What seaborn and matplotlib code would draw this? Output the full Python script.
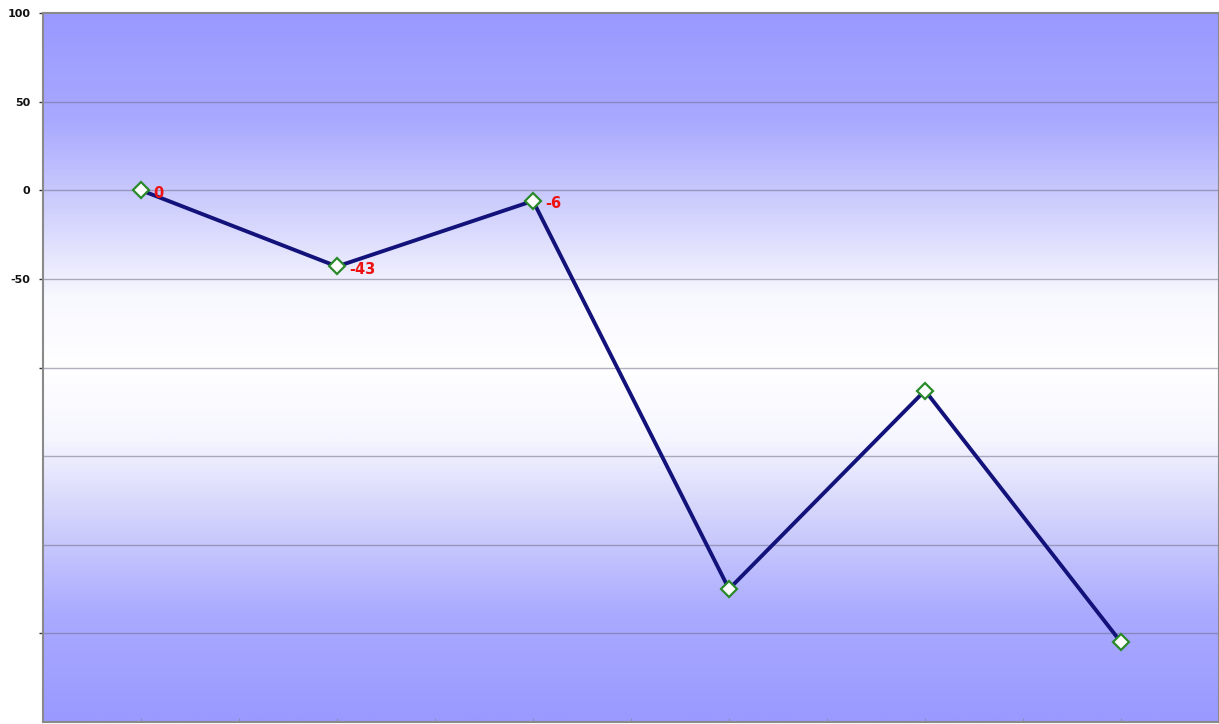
import numpy as np
import pandas as pd
import matplotlib
matplotlib.use("Agg")
import matplotlib.pyplot as plt
import seaborn as sns
from matplotlib.colors import LinearSegmentedColormap

# data
positions = [0, 1, 2, 3, 4, 5]
values = [0, -43, -6, -225, -113, -255]
point_labels = ["0", "-43", "-6", "", "", ""]
y_ticks = [100, 50, 0, -50, -100, -250]
y_ticklabels = ["100", "50", "0", "-50", "", ""]
grid_levels = [50, 0, -50, -100, -150, -200, -250]

df = pd.DataFrame({"pos": positions, "val": values})

sns.set_style("white")
fig = plt.figure(figsize=(12.19, 7.24), dpi=100)
ax = fig.add_axes([43 / 1219, 2 / 724, 1 - 43 / 1219, 709 / 724])

ax.set_xlim(-0.5, 5.5)
ax.set_ylim(-300, 100)

# vertical gradient background: blue top/bottom, white band around -100
grad_cmap = LinearSegmentedColormap.from_list(
    "bg", [(0.0, "#9999ff"), (0.15, "#a9a9ff"), (0.3, "#d8d8fd"),
           (0.4, "#f8f8ff"), (0.5, "#ffffff"), (0.6, "#f6f6ff"),
           (0.7, "#d6d6fc"), (0.85, "#aaaaff"), (1.0, "#9999ff")])
grad = np.linspace(0, 1, 400).reshape(-1, 1)
ax.imshow(grad, cmap=grad_cmap, aspect="auto", extent=[-0.5, 5.5, -300, 100],
          origin="upper", zorder=0)

for g in grid_levels:
    ax.axhline(g, color="#70708a", lw=1.0, alpha=0.55, zorder=1)

sns.lineplot(data=df, x="pos", y="val", ax=ax, color="#12127a", lw=2.8,
             marker="D", markersize=8, markerfacecolor="white",
             markeredgecolor="#2a8a2a", markeredgewidth=1.6, zorder=3)

for x, v, lab in zip(positions, values, point_labels):
    if lab:
        ax.annotate(lab, (x, v), xytext=(9, -2), textcoords="offset points",
                    color="#ee1111", fontsize=10.5, fontweight="bold",
                    ha="left", va="center", zorder=4)

ax.set_yticks(y_ticks)
ax.set_yticklabels(y_ticklabels, fontsize=8, fontweight="bold",
                   color="#111111", family="DejaVu Sans")
ax.set_xticks(np.arange(0, 5.51, 0.5))
ax.set_xticklabels([])
ax.tick_params(axis="y", length=3, width=1, color="#333333", left=True, pad=6)
ax.tick_params(axis="x", length=3, width=0.6, color="#8888aa", bottom=True,
               direction="in")
ax.set_xlabel("")
ax.set_ylabel("")
for s in ax.spines.values():
    s.set_color("#8a8a8a")
    s.set_linewidth(1.5)

fig.savefig("out.png", dpi=100)
